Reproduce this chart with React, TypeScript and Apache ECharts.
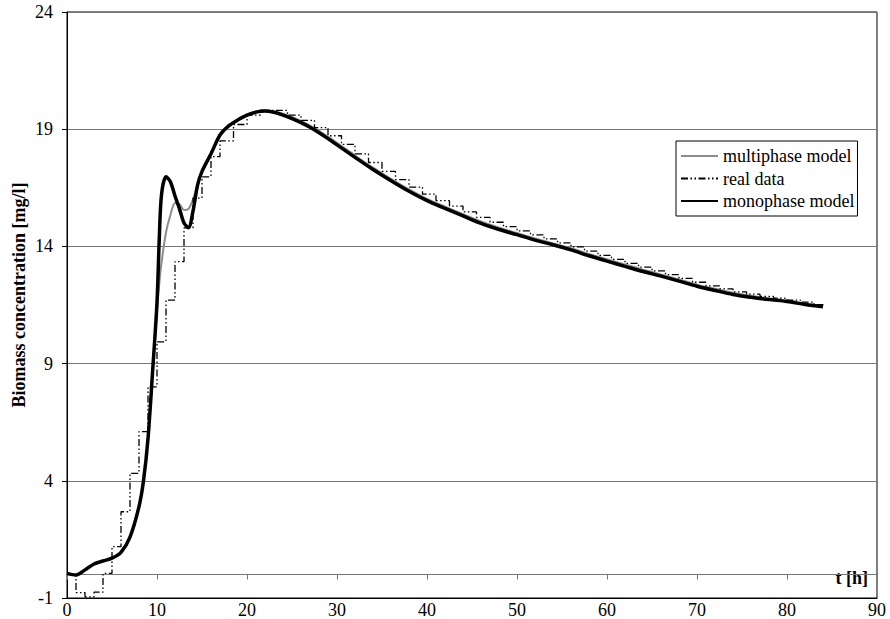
import React, { useEffect, useRef } from "react";
import * as echarts from "echarts";

// Monophase model (thick black)
const monoT = [0,1,2,3,4,5,6,7,8,8.5,9,9.5,10,10.25,10.5,11,11.5,12,12.5,13,13.5,14,14.5,15,16,17,18,19,20,21,22,23,24,25,26,27,28,29,30,32,34,36,38,40,42,44,46,48,50,52,54,56,58,60,62,64,66,68,70,72,74,76,78,80,82,84];
const monoV = [0.05,-0.02,0.2,0.45,0.58,0.7,0.95,1.6,2.9,4.0,5.8,8.6,11.6,14.3,16.2,16.97,16.75,16.15,15.6,15.0,14.8,15.5,16.6,17.2,17.95,18.75,19.15,19.4,19.6,19.73,19.78,19.72,19.6,19.45,19.28,19.08,18.85,18.6,18.33,17.8,17.28,16.8,16.35,15.95,15.62,15.3,14.98,14.72,14.5,14.27,14.07,13.85,13.6,13.37,13.15,12.93,12.73,12.52,12.3,12.12,11.95,11.83,11.73,11.65,11.52,11.42];

// Multiphase model (grey)
const multiT = [0,1,2,3,4,5,6,7,8,8.5,9,9.5,10,10.25,10.5,11,11.5,12,12.5,13,13.5,14,14.5,15,16,17,18,19,20,21,22,23,24,25,26,27,28,29,30,32,34,36,38,40,42,44,46,48,50,52,54,56,58,60,62,64,66,68,70,72,74,76,78,80,82,84];
const multiV = [0.05,-0.02,0.2,0.45,0.58,0.7,0.95,1.6,2.9,4.0,5.8,8.5,11.3,12.4,13.3,14.6,15.35,15.85,15.8,15.55,15.6,16.0,16.6,17.15,17.95,18.7,19.15,19.42,19.62,19.76,19.8,19.76,19.66,19.52,19.35,19.15,18.93,18.68,18.42,17.88,17.36,16.88,16.43,16.03,15.7,15.38,15.06,14.8,14.57,14.34,14.13,13.92,13.68,13.45,13.23,13.01,12.8,12.59,12.37,12.19,12.02,11.89,11.78,11.69,11.56,11.45];

// Real data (step, dash-dot-dot)
const realT = [0,1,2,3,4,5,6,7,8,9,10,11,12,13,14,15,16,17,18.5,20,21.5,23,24.5,26,27.5,29,30.5,32,33.5,35,36.5,38,39.5,41,42.5,44,45.5,47,48.5,50,51.5,53,54.5,56,57.5,59,60.5,62,63.5,65,66.5,68,69.5,71,72.5,74,75.5,77,78.5,80,81.5,83,84];
const realV = [0.0,-0.77,-0.95,-0.75,0.05,1.19,2.68,4.32,6.1,8.01,9.93,11.71,13.35,14.79,16.06,16.97,17.83,18.5,19.2,19.6,19.8,19.8,19.6,19.38,19.07,18.72,18.35,17.95,17.58,17.2,16.85,16.53,16.23,15.95,15.72,15.47,15.24,15.03,14.84,14.66,14.49,14.32,14.15,13.98,13.8,13.62,13.45,13.28,13.12,12.96,12.8,12.64,12.47,12.32,12.19,12.06,11.96,11.87,11.79,11.71,11.62,11.51,11.45];

const FONT = "'Liberation Serif', 'Times New Roman', serif";

const pairs = (t: number[], v: number[]) => t.map((x, i) => [x, v[i]]);

export default function App() {
  const ref = useRef<HTMLDivElement>(null);
  useEffect(() => {
    document.body.style.margin = "0";
    const chart = echarts.init(ref.current!, null, { renderer: "svg" });
    chart.setOption({
      animation: false,
      backgroundColor: "#ffffff",
      grid: {
        left: 67, right: 13, top: 12, bottom: 21,
        show: true, borderColor: "#000", borderWidth: 1, backgroundColor: "transparent",
      },
      legend: {
        orient: "vertical",
        left: 676,
        top: 141,
        data: ["multiphase model", "real data", "monophase model"],
        itemWidth: 37,
        itemHeight: 14,
        itemGap: 4.5,
        padding: [6, 3, 6, 4],
        borderColor: "#000",
        borderWidth: 1,
        backgroundColor: "#fff",
        itemStyle: { opacity: 0 },
        textStyle: { fontFamily: FONT, fontSize: 18, color: "#000", lineHeight: 18 },
      },
      xAxis: [
        {
          type: "value", min: 0, max: 90, interval: 10,
          position: "bottom",
          axisLine: { onZero: false, lineStyle: { color: "#000", width: 1 } },
          axisTick: { show: false },
          splitLine: { show: false },
          axisLabel: { fontFamily: FONT, fontSize: 18, color: "#000", margin: 3 },
        },
        {
          type: "value", min: 0, max: 90, interval: 10,
          position: "bottom",
          axisLine: { onZero: true, lineStyle: { color: "#777", width: 1 } },
          axisTick: { show: true, length: 5, lineStyle: { color: "#777" } },
          splitLine: { show: false },
          axisLabel: { show: false },
        },
      ],
      yAxis: {
        type: "value", min: -1, max: 24, interval: 5,
        axisLine: { show: true, lineStyle: { color: "#000", width: 1 } },
        axisTick: { show: true, length: 5, lineStyle: { color: "#000" } },
        splitLine: { show: true, lineStyle: { color: "#777", width: 1 } },
        axisLabel: { fontFamily: FONT, fontSize: 18, color: "#000", margin: 14 },
      },
      graphic: [
        {
          type: "text",
          x: 19, y: 295, rotation: Math.PI / 2,
          style: {
            text: "Biomass concentration [mg/l]",
            fontFamily: FONT, fontSize: 18, fontWeight: "bold", fill: "#000",
            align: "center", verticalAlign: "middle",
          },
        },
        {
          type: "text",
          x: 868, y: 578,
          style: {
            text: "t [h]",
            fontFamily: FONT, fontSize: 18, fontWeight: "bold", fill: "#000",
            align: "right", verticalAlign: "middle",
          },
        },
      ],
      series: [
        {
          name: "multiphase model", type: "line", xAxisIndex: 0,
          data: pairs(multiT, multiV), smooth: 0.3, symbol: "none",
          lineStyle: { color: "#8c8c8c", width: 2 }, itemStyle: { color: "#8c8c8c", opacity: 0 },
        },
        {
          name: "monophase model", type: "line", xAxisIndex: 0,
          data: pairs(monoT, monoV), smooth: 0.3, symbol: "none",
          lineStyle: { color: "#000", width: 3.5 }, itemStyle: { color: "#000", opacity: 0 },
        },
        {
          name: "real data", type: "line", xAxisIndex: 0,
          data: pairs(realT, realV), step: "end", symbol: "none",
          lineStyle: { color: "#000", width: 1.3, type: [7, 2.5, 1.5, 2.5, 1.5, 2.5] },
          itemStyle: { color: "#000", opacity: 0 },
        },
      ],
    });
    return () => chart.dispose();
  }, []);
  return <div ref={ref} style={{ width: 890, height: 619 }} />;
}
